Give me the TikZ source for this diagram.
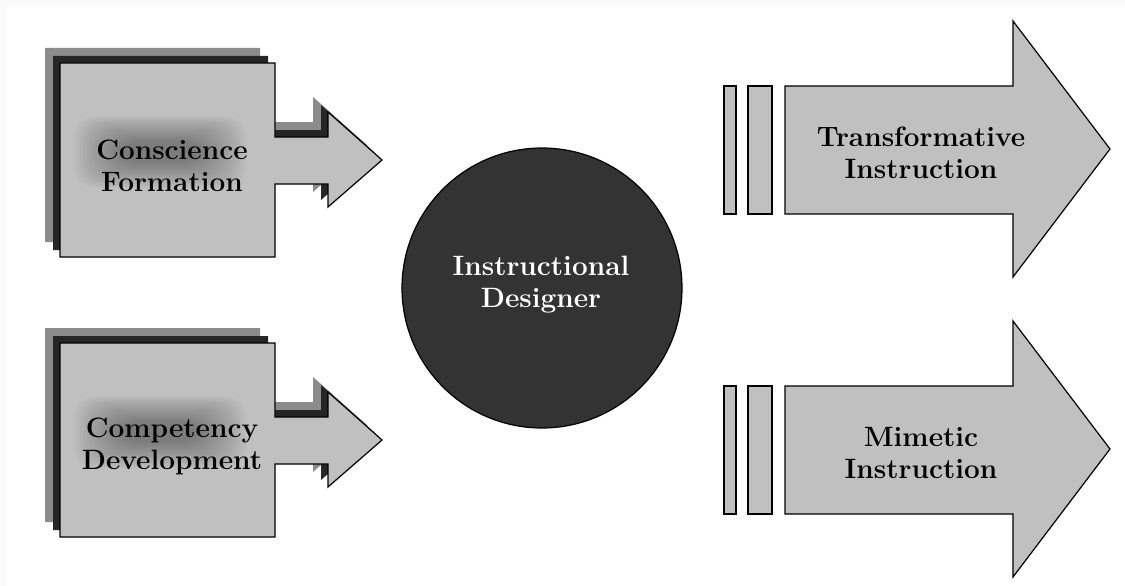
\documentclass[tikz,border=0pt]{standalone}
\definecolor{boxgray}{HTML}{C0C0C0}
\definecolor{shadelight}{HTML}{8C8C8C}
\definecolor{shadedark}{HTML}{262626}
\definecolor{discgray}{HTML}{333333}
\definecolor{offwhite}{HTML}{FAFAFA}
\begin{document}
\begin{tikzpicture}[x=1pt,y=-1pt,
    front/.style={draw=black,line width=1.2pt,fill=boxgray,line join=miter},
    glow/.style={fill=black,opacity=0.024,rounded corners=22pt},
    boxtext/.style={font=\fontsize{28}{32}\selectfont\bfseries,align=center,text=black},
  ]
  \fill[offwhite] (0,0) rectangle (1125,586);
  \fill[white] (6,7) rectangle (1125,586);
  \useasboundingbox (0,0) rectangle (1125,586);
  % left: boxes with an arrow and two shadows
  \foreach \dy/\name/\txt in {0/conscience/{Conscience\\Formation},280/competency/{Competency\\Development}} {
    \begin{scope}[shift={(0,\dy)}]
      \foreach \off/\col/\edge in {-15/shadelight/none,-7/shadedark/none,0/boxgray/black}
        \filldraw[line width=1.2pt,fill=\col,draw=\edge,shift={(\off,\off)}]
          (60,63) -- (275,63) -- (275,137) -- (328,137) -- (328,112) -- (382,160)
          -- (328,207) -- (328,184) -- (275,184) -- (275,257) -- (60,257) -- cycle;
      \foreach \k in {0,...,15}
        \fill[glow] (160-86+3*\k,152-36+1.7*\k) rectangle (160+86-3*\k,152+36-1.7*\k);
      \node[boxtext] (\name) at (172,166) {\txt};
    \end{scope}
  }
  % centre disc
  \node[circle,draw=black,line width=1.2pt,fill=discgray,minimum size=280,inner sep=0] (disc) at (542,288) {};
  \node[boxtext,text=white] (designer) at (541,285) {Instructional\\Designer};
  % right: bars and big arrows
  \foreach \dy/\name/\txt in {0/transformative/{Transformative\\Instruction},300/mimetic/{Mimetic\\Instruction}} {
    \begin{scope}[shift={(0,\dy)}]
      \draw[front] (724,86) rectangle (736,214);
      \draw[front] (748,86) rectangle (772,214);
      \draw[front] (785,86) -- (1013,86) -- (1013,21) -- (1110,149) -- (1013,277)
        -- (1013,214) -- (785,214) -- cycle;
      \node[boxtext] (\name) at (921,153) {\txt};
    \end{scope}
  }
\end{tikzpicture}
\end{document}
